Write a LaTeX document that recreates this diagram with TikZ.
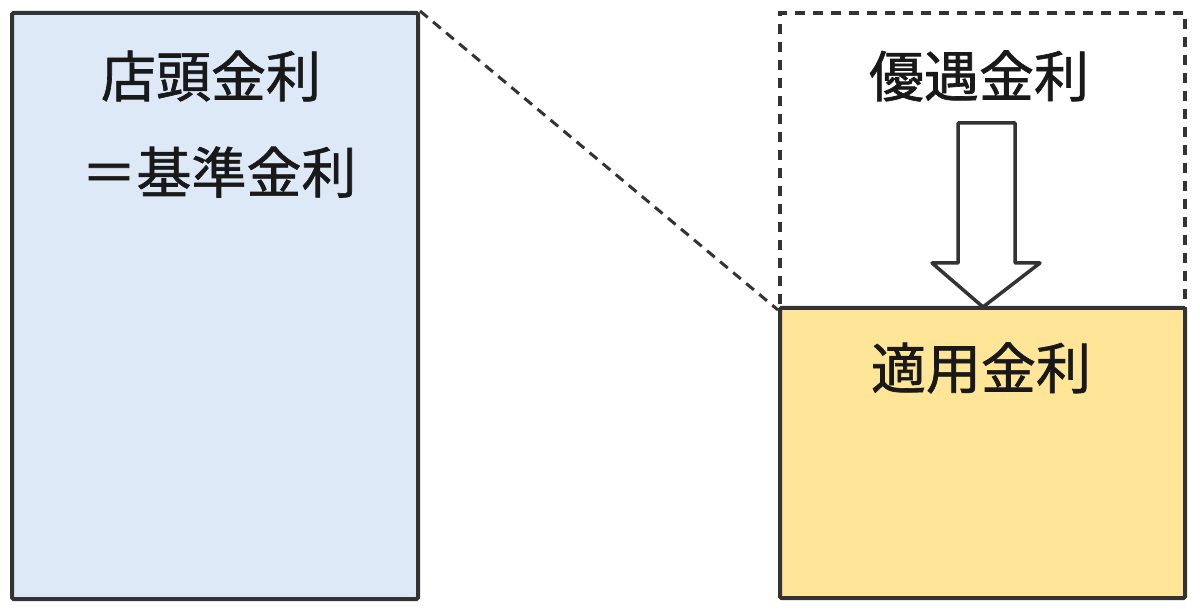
\documentclass[tikz,border=0pt]{standalone}
\usepackage{fontspec}
\setmainfont{Noto Sans CJK JP}[AutoFakeBold=1.2]
\begin{document}
\begin{tikzpicture}[x=1pt,y=-1pt,
  box/.style={draw=black!80,line width=4pt,rounded corners=1.5pt,inner sep=0pt},
  dashbox/.style={draw=black!80,line width=4pt,dash pattern=on 10pt off 8pt,inner sep=0pt},
  lbl/.style={font=\fontsize{55}{60}\selectfont\bfseries,text=black!90,inner sep=0pt,anchor=center},
  dline/.style={draw=black!80,line width=3pt,dash pattern=on 10pt off 7pt}]
\definecolor{lblue}{HTML}{DDE9F6}
\definecolor{lyellow}{HTML}{FFE598}
\useasboundingbox (0,0) rectangle (1200,609);
% left box
\node[box,fill=lblue,minimum width=406pt,minimum height=586pt] (base) at (215,306) {};
\node[lbl] (t1) at (211,76) {店頭金利};
\node[lbl] (t2) at (219,172) {＝基準金利};
% right dashed box
\node[dashbox,minimum width=405pt,minimum height=295pt] (pref) at (982.5,160.5) {};
% right yellow box
\node[box,fill=lyellow,minimum width=405pt,minimum height=290pt] (app) at (982.5,453) {};
\node[lbl] (t3) at (979,76) {優遇金利};
\node[lbl] (t4) at (981,368) {適用金利};
% dashed connector
\draw[dline] (base.north east) -- (pref.south west);
% block arrow
\coordinate (tip) at (983,307);
\draw[draw=black!80,line width=3.5pt,fill=white,line join=round]
  (958,123) -- (1015,123) -- (1015,263) -- (1040,263) -- (tip) -- (932,263) -- (958,263) -- cycle;
\end{tikzpicture}
\end{document}
